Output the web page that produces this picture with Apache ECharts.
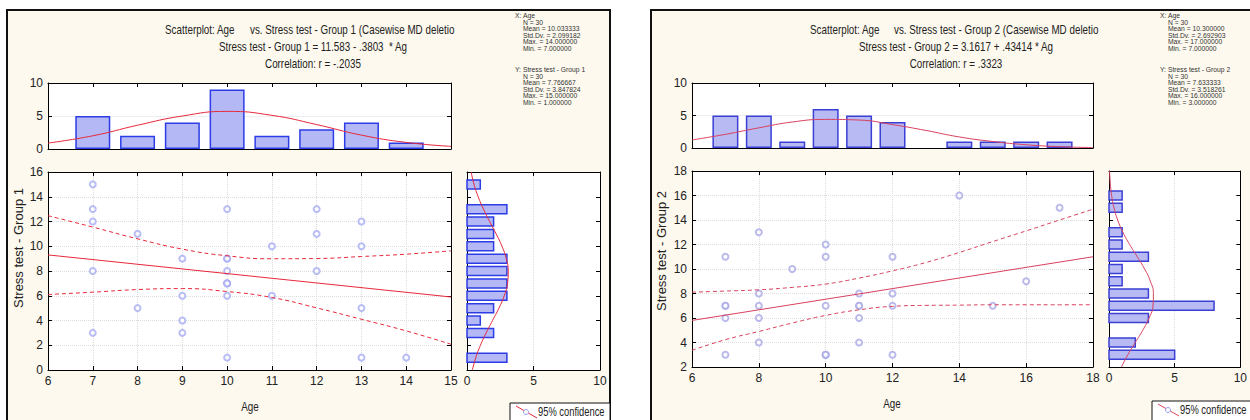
<!DOCTYPE html>
<html><head><meta charset="utf-8">
<script src="https://cdn.jsdelivr.net/npm/echarts@6/dist/echarts.min.js"></script>
<style>html,body{margin:0;padding:0;background:#fff}#c{width:1250px;height:420px}</style>
</head><body><div id="c"></div>
<script>
const FONT = '"Liberation Sans", Arial, sans-serif';

// ---------- Group 1 ----------
const g1Age    = [7,7,7,7,7, 8,8, 9,9,9,9, 10,10,10,10,10,10,10,10,10, 11,11, 12,12,12, 13,13,13,13, 14];
const g1Stress = [15,13,12,8,3, 11,5, 9,6,4,3, 13,9,9,8,7,7,7,6,1, 10,6, 13,11,8, 12,10,5,1, 1];
const g1AgeBins   = [7,8,9,10,11,12,13,14];
const g1AgeCounts = [5,2,4,9,2,3,4,1];
const g1StressBins   = [1,3,4,5,6,7,8,9,10,11,12,13,15];
const g1StressCounts = [3,2,1,2,3,3,3,3,2,2,2,3,1];
const g1AgeCurveX = [6,7,8,9,10,11,12,13,14,15];
const g1AgeCurveY = [0.9,2.0,3.6,5.0,5.7,5.1,3.7,2.1,1.0,0.4];
const g1StressCurveY = [0,1,2,3,4,5,6,7,8,9,10,11,12,13,14,15,16];
const g1StressCurveX = [0.40,0.66,1.01,1.44,1.92,2.40,2.80,3.05,3.10,2.95,2.63,2.19,1.70,1.24,0.84,0.53,0.31];
const g1FitX = [6, 15];
const g1FitY = [9.3, 5.9];
const g1BandX = [6,7,8,9,10,11,12,13,14,15];
const g1Upper = [12.47,11.55,10.6,9.77,9.23,8.99,9.01,9.17,9.36,9.63];
const g1Lower = [6.1,6.29,6.5,6.58,6.34,5.86,5.02,4.1,3.16,2.08];

// ---------- Group 2 ----------
const g2Age    = [7,7,7,7,7, 8,8,8,8,8, 9, 10,10,10,10,10,10, 11,11,11,11,11, 12,12,12,12, 14, 15, 16, 17];
const g2Stress = [11,7,6,3,7, 13,8,7,6,4, 10, 12,11,7,3,3,3, 8,7,6,4,7, 11,8,7,3, 16, 7, 9, 15];
const g2AgeBins   = [7,8,9,10,11,12,14,15,16,17];
const g2AgeCounts = [5,5,1,6,5,4,1,1,1,1];
const g2StressBins   = [3,4,6,7,8,9,10,11,12,13,15,16];
const g2StressCounts = [5,2,3,8,3,1,1,3,1,1,1,1];
const g2AgeCurveX = [6,7,8,9,10,11,12,13,14,15,16,17,18];
const g2AgeCurveY = [1.24,2.1,3.1,4.0,4.4,4.3,3.6,2.7,1.7,1.0,0.5,0.2,0.07];
const g2StressCurveY = [2,3,4,5,6,7,8,9,10,11,12,13,14,15,16,17,18];
const g2StressCurveX = [0.95,1.43,2.0,2.57,3.05,3.35,3.38,3.15,2.71,2.15,1.57,1.06,0.66,0.38,0.2,0.1,0.04];
const g2FitX = [6, 18];
const g2FitY = [5.8, 11.0];
const g2BandX = [6,7,8,9,10,11,12,13,14,15,16,17,18];
const g2Upper = [8.11,8.2,8.3,8.5,8.77,9.26,9.85,10.53,11.35,12.24,13.11,14.0,14.88];
const g2Lower = [3.36,4.23,4.9,5.59,6.21,6.67,6.95,7.03,7.05,7.08,7.08,7.08,7.08];

// tick/axis settings
const ageRange1 = [6, 15, 1], stressRange1 = [0, 16, 2];
const ageRange2 = [6, 18, 2], stressRange2 = [2, 18, 2];
const histCountRange = [0, 10, 5];

// text
const stats1X = ['N = 30','Mean = 10.033333','Std.Dv. = 2.099182','Max. = 14.000000','Min. = 7.000000'];
const stats1Y = ['N = 30','Mean = 7.766667','Std.Dv. = 3.847824','Max. = 15.000000','Min. = 1.000000'];
const stats2X = ['N = 30','Mean = 10.300000','Std.Dv. = 2.692903','Max. = 17.000000','Min. = 7.000000'];
const stats2Y = ['N = 30','Mean = 7.633333','Std.Dv. = 3.518261','Max. = 16.000000','Min. = 3.000000'];

const zip = (a, b) => a.map((v, i) => [v, b[i]]);

const xAxes = [], yAxes = [], grids = [], series = [];
function addGrid(box, xr, yr, o) {
  const gi = grids.length;
  grids.push({left: box[0], top: box[1], width: box[2], height: box[3], show: true,
    backgroundColor: '#fff', borderWidth: 0});
  const line = {show: true, onZero: false, lineStyle: {color: '#000', width: 1}};
  const tick = {show: true, inside: true, length: 4, lineStyle: {color: '#000'}};
  const lab = {fontSize: 12, color: '#222', fontFamily: FONT, margin: 5};
  const xi = xAxes.length;
  xAxes.push({gridIndex: gi, type: 'value', min: xr[0], max: xr[1], interval: xr[2], position: 'bottom',
    axisLine: line, axisTick: tick, axisLabel: Object.assign({show: o.xLab}, lab),
    splitLine: {show: !!o.xSplit, lineStyle: o.xSplit || {}}});
  xAxes.push({gridIndex: gi, type: 'value', min: xr[0], max: xr[1], interval: xr[2], position: 'top',
    axisLine: line, axisTick: tick, axisLabel: {show: false}, splitLine: {show: false}});
  const yi = yAxes.length;
  yAxes.push({gridIndex: gi, type: 'value', min: yr[0], max: yr[1], interval: yr[2], position: 'left',
    axisLine: line, axisTick: tick, axisLabel: Object.assign({show: o.yLab}, lab),
    splitLine: {show: !!o.ySplit, lineStyle: o.ySplit || {}}});
  yAxes.push({gridIndex: gi, type: 'value', min: yr[0], max: yr[1], interval: yr[2], position: 'right',
    axisLine: line, axisTick: tick, axisLabel: {show: false}, splitLine: {show: false}});
  return {x: xi, y: yi};
}

function hbar(fill, stroke) {
  return function (params, api) {
    const y = api.value(0), c = api.value(1);
    const p0 = api.coord([0, y]), p1 = api.coord([c, y]);
    const h = 9;
    return {type: 'rect', shape: {x: p0[0], y: p0[1] - h / 2, width: p1[0] - p0[0], height: h},
      style: {fill: fill, stroke: stroke, lineWidth: 1.5}};
  };
}

function panel(p) {
  const grid = '#dcdcdc';
  const top = addGrid(p.topBox, p.ageR, histCountRange, {xLab: false, yLab: true, ySplit: {color: '#eeeeee'}});
  const sc = addGrid(p.scBox, p.ageR, p.stR, {xLab: true, yLab: true,
    xSplit: {color: grid, type: 'dotted'}, ySplit: {color: grid, type: 'dotted'}});
  const side = addGrid(p.sideBox, histCountRange, p.stR, {xLab: true, yLab: false,
    xSplit: {color: grid, type: 'dotted'}});
  series.push({type: 'bar', xAxisIndex: top.x, yAxisIndex: top.y, barWidth: p.barW,
    data: zip(p.ageBins, p.ageCounts),
    itemStyle: {color: p.fill, borderColor: p.stroke, borderWidth: 1.5}});
  series.push({type: 'line', xAxisIndex: top.x, yAxisIndex: top.y, smooth: true, symbol: 'none',
    data: zip(p.ageCurveX, p.ageCurveY), lineStyle: {color: p.red, width: 1}});
  series.push({type: 'scatter', xAxisIndex: sc.x, yAxisIndex: sc.y, symbol: 'emptyCircle', symbolSize: 6,
    data: zip(p.age, p.stress), itemStyle: {color: p.dot, borderWidth: 1}});
  series.push({type: 'line', xAxisIndex: sc.x, yAxisIndex: sc.y, symbol: 'none',
    data: zip(p.fitX, p.fitY), lineStyle: {color: p.red, width: 1}});
  series.push({type: 'line', xAxisIndex: sc.x, yAxisIndex: sc.y, symbol: 'none', smooth: true,
    data: zip(p.bandX, p.upper), lineStyle: {color: p.red, width: 1, type: [4, 3]}});
  series.push({type: 'line', xAxisIndex: sc.x, yAxisIndex: sc.y, symbol: 'none', smooth: true,
    data: zip(p.bandX, p.lower), lineStyle: {color: p.red, width: 1, type: [4, 3]}});
  series.push({type: 'custom', xAxisIndex: side.x, yAxisIndex: side.y, renderItem: hbar(p.fill, p.stroke),
    encode: {x: 1, y: 0}, data: zip(p.stBins, p.stCounts)});
  series.push({type: 'line', xAxisIndex: side.x, yAxisIndex: side.y, smooth: true, symbol: 'none',
    data: zip(p.stCurveX, p.stCurveY), lineStyle: {color: p.red, width: 1}});
}

panel({topBox: [48, 83, 403, 66], scBox: [48, 172, 403, 198], sideBox: [467, 172, 133, 198],
  ageR: ageRange1, stR: stressRange1, barW: 35,
  ageBins: g1AgeBins, ageCounts: g1AgeCounts, ageCurveX: g1AgeCurveX, ageCurveY: g1AgeCurveY,
  age: g1Age, stress: g1Stress, fitX: g1FitX, fitY: g1FitY, bandX: g1BandX, upper: g1Upper, lower: g1Lower,
  stBins: g1StressBins, stCounts: g1StressCounts, stCurveX: g1StressCurveX, stCurveY: g1StressCurveY,
  fill: '#b4b9f6', stroke: '#2c3ce6', red: '#e8283a', dot: '#a8acf3'});
panel({topBox: [692, 83, 401, 65], scBox: [692, 171, 401, 196], sideBox: [1109, 171, 133, 196],
  ageR: ageRange2, stR: stressRange2, barW: 26,
  ageBins: g2AgeBins, ageCounts: g2AgeCounts, ageCurveX: g2AgeCurveX, ageCurveY: g2AgeCurveY,
  age: g2Age, stress: g2Stress, fitX: g2FitX, fitY: g2FitY, bandX: g2BandX, upper: g2Upper, lower: g2Lower,
  stBins: g2StressBins, stCounts: g2StressCounts, stCurveX: g2StressCurveX, stCurveY: g2StressCurveY,
  fill: '#b8baf3', stroke: '#3a40d4', red: '#d8405e', dot: '#aaaae6'});

// ---------- graphic: panels, titles, stats, legends ----------
const NARROW = 0.82;
const txt = (x, y, s, o, sx) => ({type: 'text', x: x, y: y, z: 100, scaleX: sx || 1,
  style: Object.assign({text: s, fill: '#222', font: '12px ' + FONT, textVerticalAlign: 'middle'}, o || {})});
const g = [];
g.push({type: 'rect', z: -100, shape: {x: 7, y: 10, width: 603, height: 430},
  style: {fill: '#fdf9ee', stroke: '#111', lineWidth: 2}});
g.push({type: 'rect', z: -100, shape: {x: 651, y: 10, width: 620, height: 430},
  style: {fill: '#fdf9ee', stroke: '#111', lineWidth: 2}});

function titles(cx, x1, x2, grp, eq, corr) {
  g.push(txt(x1, 30, 'Scatterplot: Age', null, NARROW));
  g.push(txt(x2, 30, 'vs. Stress test - Group ' + grp + ' (Casewise MD deletio', null, NARROW));
  g.push(txt(cx, 47, eq, {textAlign: 'center'}, NARROW));
  g.push(txt(cx, 64, corr, {textAlign: 'center'}, NARROW));
}
titles(313, 165, 250, 1, 'Stress test - Group 1 = 11.583 - .3803  * Ag', 'Correlation: r = -.2035');
titles(956, 810, 894, 2, 'Stress test - Group 2 = 3.1617 + .43414 * Ag', 'Correlation: r = .3323');

function stats(x, xs, ys, grp) {
  const st = {font: '7.5px ' + FONT, fill: '#333'};
  g.push(txt(x, 16, 'X:', st, 0.9)); g.push(txt(x + 8, 16, 'Age', st, 0.9));
  xs.forEach((s, i) => g.push(txt(x + 8, 22.5 + i * 6.5, s, st, 0.9)));
  g.push(txt(x, 70, 'Y:', st, 0.9)); g.push(txt(x + 8, 70, 'Stress test - Group ' + grp, st, 0.9));
  ys.forEach((s, i) => g.push(txt(x + 8, 76.5 + i * 6.5, s, st, 0.9)));
}
stats(515, stats1X, stats1Y, 1);
stats(1160, stats2X, stats2Y, 2);

// axis titles
g.push(txt(250, 407, 'Age', {textAlign: 'center'}, NARROW));
g.push(txt(892, 404, 'Age', {textAlign: 'center'}, NARROW));
g.push(Object.assign(txt(18, 248, 'Stress test - Group 1', {textAlign: 'center', font: '13px ' + FONT}), {rotation: Math.PI / 2}));
g.push(Object.assign(txt(661, 251, 'Stress test - Group 2', {textAlign: 'center', font: '13px ' + FONT}), {rotation: Math.PI / 2}));

function legend(x, y, w, red) {
  g.push({type: 'rect', z: 90, shape: {x: x, y: y, width: w, height: 22}, style: {fill: '#fff', stroke: '#111', lineWidth: 1}});
  g.push({type: 'line', z: 95, shape: {x1: x + 6, y1: y + 3, x2: x + 27, y2: y + 15}, style: {stroke: red, lineWidth: 1}});
  g.push({type: 'circle', z: 96, shape: {cx: x + 16, cy: y + 9, r: 2.5}, style: {fill: '#fff', stroke: '#9a9ef0', lineWidth: 1}});
  g.push(txt(x + 28, y + 9, '95% confidence', null, 0.78));
}
legend(510, 403, 100, '#e8283a');
legend(1152, 401, 110, '#d8405e');

const chart = echarts.init(document.getElementById('c'), null, {renderer: 'svg'});
chart.setOption({
  animation: false,
  backgroundColor: '#ffffff',
  grid: grids, xAxis: xAxes, yAxis: yAxes, series: series, graphic: g
});
</script></body></html>
